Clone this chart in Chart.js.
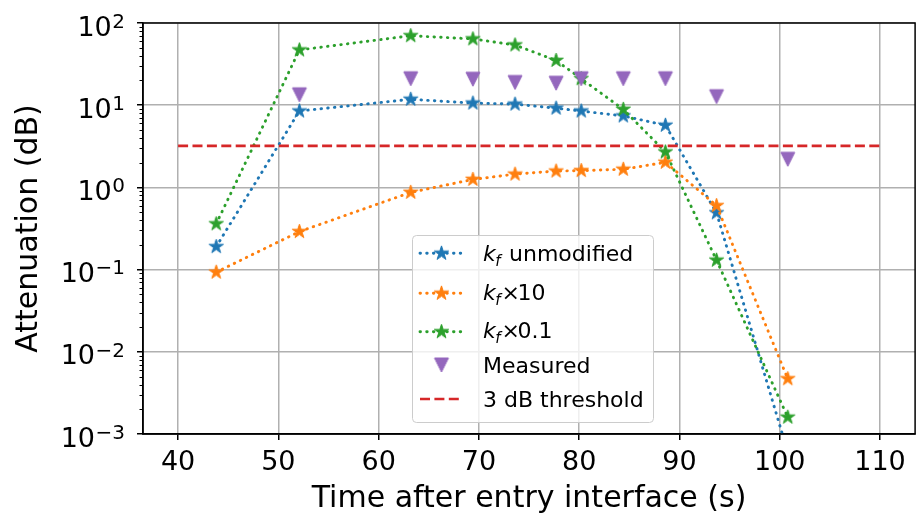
<!DOCTYPE html>
<html>
<head>
<meta charset="utf-8">
<script src="https://cdn.jsdelivr.net/npm/chart.js@4.4.1/dist/chart.umd.min.js"></script>
<style>
  html, body { margin: 0; padding: 0; overflow: hidden; background: #fff; }
  canvas { display: block; }
</style>
</head>
<body>
<canvas id="attChart" width="925" height="517"></canvas>
<script>
// values
const times = [43.8, 52.1, 63.2, 69.4, 73.6, 77.7, 80.2, 84.4, 88.6, 93.7, 100.8];
const kfUnmodified = [0.19, 8.5, 11.8, 10.6, 10.3, 9.2, 8.5, 7.4, 5.7, 0.49, 0.0006];
const kfTimes10 = [0.093, 0.29, 0.87, 1.25, 1.45, 1.58, 1.6, 1.66, 2.02, 0.6, 0.0047];
const kfTimes01 = [0.36, 47, 70, 64, 54, 35, 21, 8.9, 2.7, 0.13, 0.0016];
const measuredTimes = [52.1, 63.2, 69.4, 73.6, 77.7, 80.2, 84.4, 88.6, 93.7, 100.8];
const measured = [13.4, 21, 20.7, 18.9, 18.5, 21, 21, 21, 12.7, 2.2];
const thresholdTimes = [40, 110];
const threshold = [3.2, 3.2];

const xTicks = [40, 50, 60, 70, 80, 90, 100, 110];
const yDecades = [0.001, 0.01, 0.1, 1, 10, 100];
const yTickBase = "10";
const yTickExponents = ["−3", "−2", "−1", "0", "1", "2"];
const legendLabels = ["unmodified", "10", "0.1", "Measured", "3 dB threshold"];

const FONT = "DejaVu Sans";
const BLUE = "#1f77b4", ORANGE = "#ff7f0e", GREEN = "#2ca02c", PURPLE = "#9467bd", RED = "#d62728";

const toPoints = (xs, ys) => xs.map((x, i) => ({ x, y: ys[i] }));
const decadeIndex = v => yDecades.findIndex(d => Math.abs(d - v) < d * 1e-6);
const isDecade = v => decadeIndex(v) >= 0;

function starImage(color, r) {
  const s = Math.ceil(r * 2 + 4);
  const c = document.createElement("canvas");
  c.width = c.height = s;
  const g = c.getContext("2d");
  g.translate(s / 2, s / 2);
  g.beginPath();
  for (let i = 0; i < 10; i++) {
    const rr = i % 2 ? r * 0.382 : r;
    const a = -Math.PI / 2 + i * Math.PI / 5;
    g.lineTo(rr * Math.cos(a), rr * Math.sin(a));
  }
  g.closePath();
  g.fillStyle = color;
  g.fill();
  g.strokeStyle = color;
  g.lineWidth = 1;
  g.stroke();
  return c;
}

function triangleDownImage(color, h) {
  const s = Math.ceil(h * 2 + 4);
  const c = document.createElement("canvas");
  c.width = c.height = s;
  const g = c.getContext("2d");
  g.translate(s / 2, s / 2);
  g.beginPath();
  g.moveTo(0, h);
  g.lineTo(-h, -h);
  g.lineTo(h, -h);
  g.closePath();
  g.fillStyle = color;
  g.fill();
  g.strokeStyle = color;
  g.lineWidth = 1;
  g.stroke();
  return c;
}

const stars = [starImage(BLUE, 7.5), starImage(ORANGE, 7.5), starImage(GREEN, 7.5)];
const triangle = triangleDownImage(PURPLE, 7);
const DOTS = [0.5, 6.2];
const DASHES = [10, 4.4];

function modelSeries(label, ys, color, img, order) {
  return {
    label,
    data: toPoints(times, ys),
    borderColor: color,
    backgroundColor: color,
    borderWidth: 2.9,
    borderDash: DOTS,
    borderCapStyle: "round",
    pointStyle: img,
    pointRadius: 7,
    tension: 0,
    order
  };
}

// frame on all four sides, minor ticks, 10^n tick labels and the legend box
const extras = {
  id: "extras",
  afterDraw(chart) {
    const { ctx, chartArea: a, scales: { y } } = chart;
    ctx.save();

    ctx.strokeStyle = "#000";
    ctx.lineWidth = 1;
    y.ticks.forEach(t => {
      if (isDecade(t.value)) return;
      const py = Math.round(y.getPixelForValue(t.value)) + 0.5;
      ctx.beginPath();
      ctx.moveTo(a.left - 3.5, py);
      ctx.lineTo(a.left, py);
      ctx.stroke();
    });

    // y tick labels as 10 with a raised exponent
    ctx.fillStyle = "#000";
    ctx.textBaseline = "alphabetic";
    ctx.textAlign = "right";
    const labelRight = a.left - 18;
    yDecades.forEach((d, i) => {
      const py = y.getPixelForValue(d);
      ctx.font = "20px '" + FONT + "'";
      const exp = yTickExponents[i];
      const ew = ctx.measureText(exp).width;
      ctx.fillText(exp, labelRight, py + 4.7);
      ctx.font = "27px '" + FONT + "'";
      ctx.fillText(yTickBase, labelRight - ew - 0.5, py + 12.5);
    });

    ctx.lineWidth = 1.5;
    ctx.strokeRect(a.left, a.top, a.right - a.left, a.bottom - a.top);

    // legend
    const bx = 412, by = 235, bw = 241, bh = 187;
    ctx.beginPath();
    ctx.roundRect(bx + 0.5, by + 0.5, bw, bh, 4);
    ctx.fillStyle = "rgba(255,255,255,0.8)";
    ctx.fill();
    ctx.strokeStyle = "#cccccc";
    ctx.lineWidth = 1;
    ctx.stroke();

    const rowY = [253.3, 293.3, 331.7, 365, 399];
    const baseY = [261, 300, 338.3, 373.3, 406.7];
    const colors = [BLUE, ORANGE, GREEN, PURPLE, RED];
    const x0 = 420, x1 = 463, xm = 441.5, tx = 483;

    rowY.forEach((ry, i) => {
      if (i < 3 || i === 4) {
        ctx.beginPath();
        ctx.setLineDash(i === 4 ? DASHES : DOTS);
        ctx.lineCap = i === 4 ? "butt" : "round";
        ctx.strokeStyle = colors[i];
        ctx.lineWidth = i === 4 ? 2.7 : 2.9;
        ctx.moveTo(x0, ry);
        ctx.lineTo(x1, ry);
        ctx.stroke();
        ctx.setLineDash([]);
      }
      if (i < 3) ctx.drawImage(stars[i], xm - stars[i].width / 2, ry - stars[i].height / 2);
      if (i === 3) ctx.drawImage(triangle, xm - triangle.width / 2, ry - triangle.height / 2);

      ctx.fillStyle = "#000";
      ctx.textBaseline = "alphabetic";
      ctx.textAlign = "left";
      const by2 = baseY[i];
      if (i < 3) {
        ctx.font = "italic 22px '" + FONT + "'";
        ctx.fillText("k", tx, by2);
        let w = ctx.measureText("k").width;
        ctx.font = "italic 15px '" + FONT + "'";
        ctx.fillText("f", tx + w - 0.5, by2 + 4.5);
        w += ctx.measureText("f").width;
        ctx.font = "22px '" + FONT + "'";
        if (i === 0) {
          ctx.fillText(legendLabels[i], tx + w + 8, by2);
        } else {
          ctx.fillText("×", tx + w + 0.5, by2);
          ctx.fillText(legendLabels[i], tx + w + 16.5, by2);
        }
      } else {
        ctx.font = "22px '" + FONT + "'";
        ctx.fillText(legendLabels[i], tx, by2);
      }
    });

    ctx.restore();
  }
};

new Chart(document.getElementById("attChart"), {
  type: "line",
  data: {
    datasets: [
      modelSeries("kf unmodified", kfUnmodified, BLUE, stars[0], 4),
      modelSeries("kf x 10", kfTimes10, ORANGE, stars[1], 3),
      modelSeries("kf x 0.1", kfTimes01, GREEN, stars[2], 2),
      {
        label: "Measured",
        data: toPoints(measuredTimes, measured),
        showLine: false,
        borderColor: PURPLE,
        backgroundColor: PURPLE,
        pointStyle: triangle,
        pointRadius: 7,
        order: 1
      },
      {
        label: "3 dB threshold",
        data: toPoints(thresholdTimes, threshold),
        borderColor: RED,
        borderWidth: 2.7,
        borderDash: DASHES,
        pointRadius: 0,
        order: 0
      }
    ]
  },
  options: {
    responsive: false,
    animation: false,
    layout: { padding: { top: 23, right: 3, left: 0, bottom: 0 } },
    plugins: {
      legend: { display: false },
      tooltip: { enabled: false }
    },
    scales: {
      x: {
        type: "linear",
        min: 36.5,
        max: 113.5,
        afterBuildTicks: s => { s.ticks = xTicks.map(v => ({ value: v })); },
        afterFit: s => { s.height = 83; },
        grid: { color: "#b0b0b0", lineWidth: 1.5, tickColor: "#000", tickLength: 6, tickWidth: 1.5 },
        border: { color: "#000", width: 1.5 },
        ticks: {
          color: "#000",
          font: { family: FONT, size: 27, lineHeight: 1.2 },
          padding: 7,
          autoSkip: false,
          maxRotation: 0
        },
        title: {
          display: true,
          text: "Time after entry interface (s)",
          color: "#000",
          font: { family: FONT, size: 30, lineHeight: 1.2 },
          padding: { top: 0, bottom: 0 }
        }
      },
      y: {
        type: "logarithmic",
        min: 0.001,
        max: 100,
        afterBuildTicks: s => {
          const t = [];
          yDecades.forEach((d, i) => {
            if (i === yDecades.length - 1) { t.push({ value: d }); return; }
            for (let k = 1; k < 10; k++) t.push({ value: +(d * k).toPrecision(3) });
          });
          s.ticks = t;
        },
        afterFit: s => { s.width = 143; },
        grid: {
          color: c => (c.tick && isDecade(c.tick.value)) ? "#b0b0b0" : "rgba(0,0,0,0)",
          tickColor: c => (c.tick && isDecade(c.tick.value)) ? "#000" : "rgba(0,0,0,0)",
          lineWidth: 1.5,
          tickWidth: 1.5,
          tickLength: 6
        },
        border: { color: "#000", width: 1.5 },
        ticks: {
          font: { family: FONT, size: 27 },
          autoSkip: false,
          callback: () => ""
        },
        title: {
          display: true,
          text: "Attenuation (dB)",
          color: "#000",
          font: { family: FONT, size: 30, lineHeight: 1.2 },
          padding: { top: 11, bottom: 0 }
        }
      }
    }
  },
  plugins: [extras]
});
</script>
</body>
</html>
